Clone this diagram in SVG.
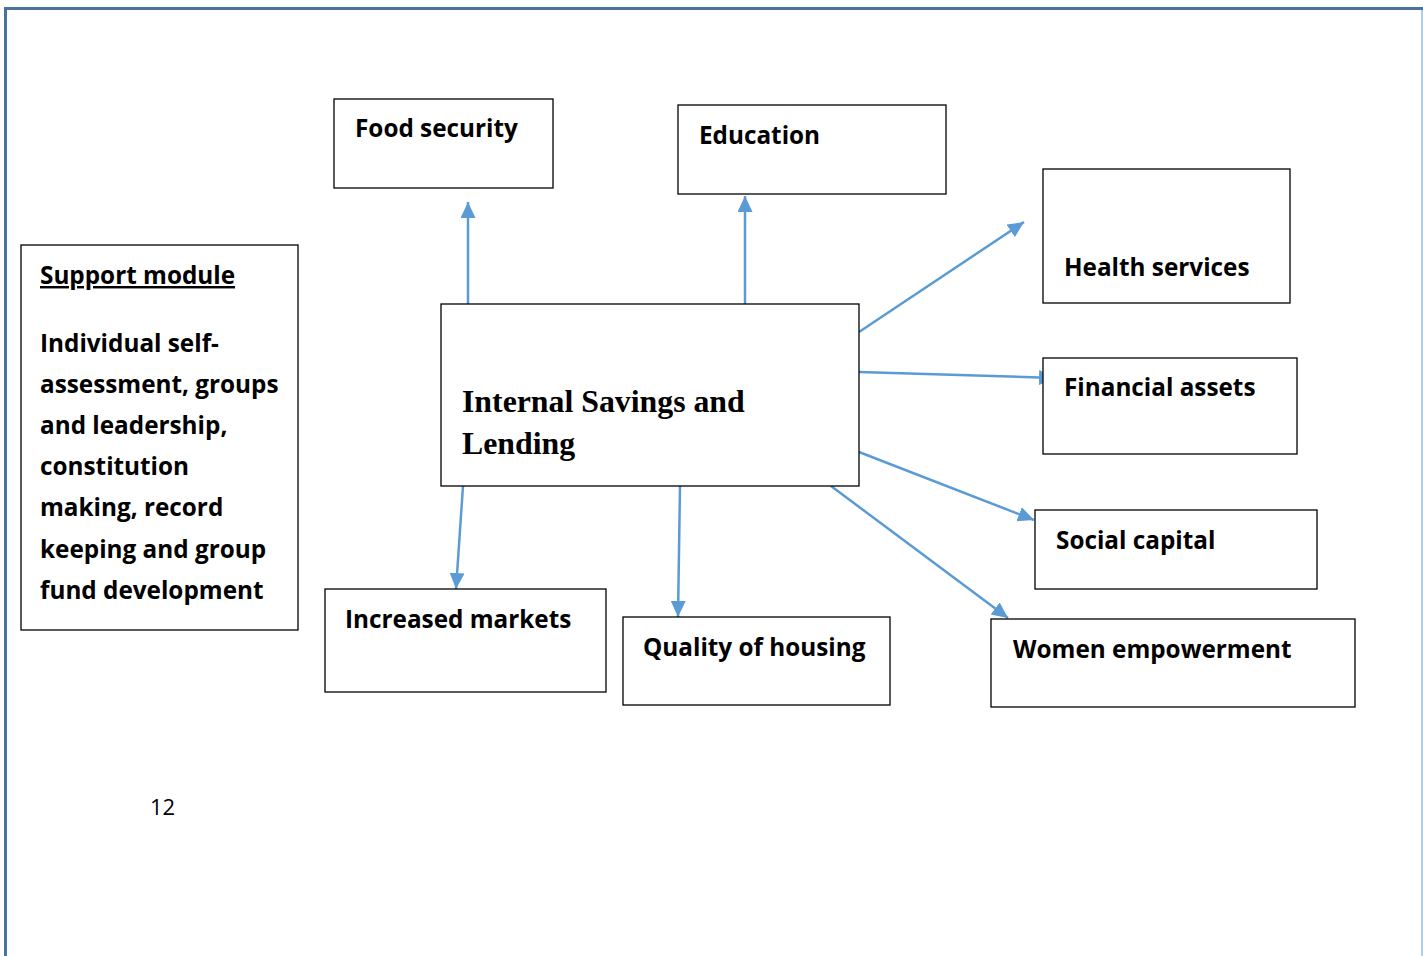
<svg xmlns="http://www.w3.org/2000/svg" width="1423" height="956" viewBox="0 0 1423 956">
<style>
.box{fill:#fff;stroke:#000;stroke-width:1.3}
.lbl{font-family:"Open Sans","Liberation Sans",sans-serif;font-weight:bold;font-size:24.3px;fill:#000}
.main{font-family:"Liberation Serif",serif;font-weight:bold;font-size:31.8px;fill:#000}
.con{stroke:#5B9BD5;stroke-width:2.5;fill:none;marker-end:url(#ah)}
</style>
<defs>
<marker id="ah" markerUnits="userSpaceOnUse" markerWidth="18" markerHeight="16" refX="16" refY="7.5" orient="auto">
<path d="M0,0 L16,7.5 L0,15 Z" fill="#5B9BD5"/>
</marker>
</defs>
<rect width="1423" height="956" fill="#fff"/>
<g id="frame">
<line x1="4" y1="8.5" x2="1423" y2="8.5" stroke="#4A72A0" stroke-width="3"/>
<line x1="5.5" y1="7" x2="5.5" y2="956" stroke="#4A72A0" stroke-width="3"/>
<line x1="1422" y1="10" x2="1422" y2="956" stroke="#9DBCD8" stroke-width="1.5"/>
</g>
<g id="connectors">
<line class="con" x1="468" y1="304" x2="468" y2="202"/>
<line class="con" x1="745" y1="304" x2="745" y2="196"/>
<line class="con" x1="859" y1="332" x2="1024" y2="222"/>
<line class="con" x1="859" y1="372" x2="1055" y2="378"/>
<line class="con" x1="859" y1="452" x2="1034" y2="520"/>
<line class="con" x1="831" y1="486" x2="1008" y2="618"/>
<line class="con" x1="463" y1="486" x2="456" y2="589"/>
<line class="con" x1="680" y1="486" x2="678" y2="617"/>
</g>
<g id="support">
<rect class="box" x="21" y="245" width="277" height="385"/>
<text class="lbl" x="40" y="284" text-decoration="underline">Support module</text>
<text class="lbl" x="40" y="352">Individual self-</text>
<text class="lbl" x="40" y="393">assessment, groups</text>
<text class="lbl" x="40" y="434">and leadership,</text>
<text class="lbl" x="40" y="475">constitution</text>
<text class="lbl" x="40" y="516">making, record</text>
<text class="lbl" x="40" y="558">keeping and group</text>
<text class="lbl" x="40" y="599">fund development</text>
</g>
<g id="isl">
<rect class="box" x="441" y="304" width="418" height="182" stroke-width="2"/>
<text class="main" x="462" y="412">Internal Savings and</text>
<text class="main" x="462" y="454">Lending</text>
</g>
<g id="food">
<rect class="box" x="334" y="99" width="219" height="89"/>
<text class="lbl" x="355" y="137">Food security</text>
</g>
<g id="education">
<rect class="box" x="678" y="105" width="268" height="89"/>
<text class="lbl" x="699" y="144">Education</text>
</g>
<g id="health">
<rect class="box" x="1043" y="169" width="247" height="134" stroke-width="2"/>
<text class="lbl" x="1064" y="276">Health services</text>
</g>
<g id="financial">
<rect class="box" x="1043" y="358" width="254" height="96"/>
<text class="lbl" x="1064" y="396">Financial assets</text>
</g>
<g id="social">
<rect class="box" x="1035" y="510" width="282" height="79"/>
<text class="lbl" x="1056" y="549">Social capital</text>
</g>
<g id="women">
<rect class="box" x="991" y="619" width="364" height="88"/>
<text class="lbl" x="1013" y="658">Women empowerment</text>
</g>
<g id="housing">
<rect class="box" x="623" y="617" width="267" height="88"/>
<text class="lbl" x="643" y="656">Quality of housing</text>
</g>
<g id="markets">
<rect class="box" x="325" y="589" width="281" height="103"/>
<text class="lbl" x="345" y="628">Increased markets</text>
</g>
<text x="150" y="815" font-family="Open Sans, Liberation Sans, sans-serif" font-size="22" fill="#000">12</text>
</svg>
